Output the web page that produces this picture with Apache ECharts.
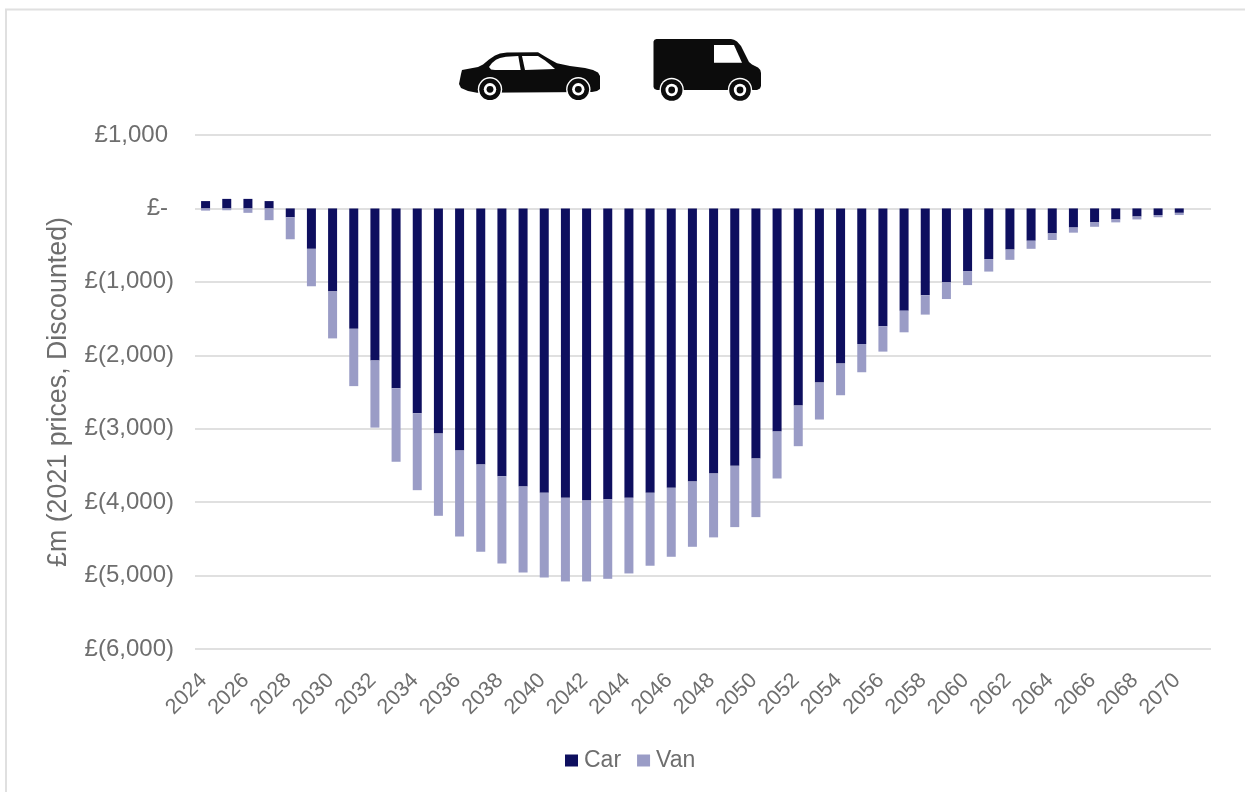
<!DOCTYPE html>
<html>
<head>
<meta charset="utf-8">
<style>html,body{margin:0;padding:0;background:#fff}#chart{width:1245px;height:792px}</style>
<script src="https://cdn.jsdelivr.net/npm/echarts@6/dist/echarts.min.js"></script>
</head>
<body>
<div id="chart"></div>
<script>
// Annual impact in £m, 2021 prices, discounted
const years = [2024,2025,2026,2027,2028,2029,2030,2031,2032,2033,2034,2035,2036,2037,2038,2039,
  2040,2041,2042,2043,2044,2045,2046,2047,2048,2049,2050,2051,2052,2053,2054,2055,2056,2057,2058,
  2059,2060,2061,2062,2063,2064,2065,2066,2067,2068,2069,2070,2071];
const car = [100,130,130,100,-120,-550,-1130,-1640,-2070,-2450,-2790,-3066,-3297,-3487,-3646,-3787,
  -3873,-3941,-3977,-3959,-3941,-3873,-3805,-3719,-3610,-3506,-3406,-3039,-2685,-2372,-2113,-1846,-1605,-1392,-1184,
  -1007,-857,-690,-560,-440,-340,-260,-190,-150,-110,-90,-60];
const van = [-30,-25,-60,-160,-300,-510,-640,-780,-915,-1000,-1047,-1120,-1170,-1189,-1189,-1170,
  -1152,-1139,-1103,-1085,-1030,-993,-939,-889,-870,-834,-798,-639,-553,-503,-431,-385,-345,-295,-262,
  -227,-187,-170,-140,-110,-90,-70,-60,-40,-40,-30,-30];

const GREY = '#6e6e6e', RULE = '#e0e0e0', ICON = '#0c0c0c';
const FONT = '"Liberation Sans", Arial, sans-serif';

// Accounting style: negatives in brackets, zero as a dash, others indented by a bracket's width
function money(v) {
  if (v === 0) return '{pad|£-}';
  const s = Math.abs(v).toLocaleString('en-GB');
  return v < 0 ? '{neg|£(' + s + ')}' : '{pad|£' + s + '}';
}

function wheel(cx, cy) {
  return [[12.2, '#fff'], [10.8, ICON], [6.2, '#fff'], [3.4, ICON]].map(([r, fill]) => ({
    type: 'circle', shape: { cx, cy, r }, style: { fill }, silent: true
  }));
}
function outline(points, fill) {
  return { type: 'polygon', shape: { points }, style: { fill }, silent: true };
}

// Pictograms above the plot, one per vehicle type
const carIcon = [
  outline([[459,84],[460,79],[461,74],[462,70],[470,68.5],[478,67],[483,64.5],[489,59.5],[495,55.5],[500,53.5],[507,52.5],[538,52.3],
    [545,56.5],[551,60],[557,63.3],[570,66],[585,68],[593,70],[598,72.5],[600,76],[600,89],[597,91],[592,92],[477,92.7],[468,91],[461,88]], ICON),
  outline([[489,67],[492,63],[496,59.8],[500,58],[506,56.8],[518.3,56],[520.7,70],[495,70],[491,69.5]], '#fff'),
  outline([[522,56],[538,56],[545,60.5],[550,64.5],[555,69],[525,70]], '#fff'),
  ...wheel(490, 89.3),
  ...wheel(578.3, 89.3)
];
const vanIcon = [
  outline([[653.5,41.5],[654.5,39.8],[656.5,39],[731,39],[734,39.8],[737,41.5],[741,46],[749,62],[752,64.5],[758,67.5],[760.3,70],[761,73],
    [761,86],[760,88.5],[757,90],[657,90],[654.5,89],[653.5,87]], ICON),
  outline([[714,45],[734,45],[742,62.8],[714,62.8]], '#fff'),
  ...wheel(671.7, 90),
  ...wheel(740, 90)
];

const chart = echarts.init(document.getElementById('chart'), null, { renderer: 'canvas' });
chart.setOption({
  animation: false,
  backgroundColor: '#fff',
  textStyle: { fontFamily: FONT },
  grid: { left: 195, right: 34, top: 135, bottom: 143 },
  legend: {
    left: 565, top: 749, padding: 0, itemWidth: 13, itemHeight: 12, itemGap: 16, icon: 'rect',
    textStyle: { color: GREY, fontSize: 23, fontFamily: FONT, padding: [0, 0, 0, 1] },
    data: ['Car', 'Van']
  },
  xAxis: {
    type: 'category', data: years,
    axisLine: { show: false, onZero: false }, axisTick: { show: false },
    axisLabel: { interval: 1, rotate: 45, color: GREY, fontSize: 21.5, margin: 26, padding: [0, 3, 0, 0], fontFamily: FONT }
  },
  yAxis: {
    type: 'value', min: -6000, max: 1000, interval: 1000,
    name: '£m (2021 prices, Discounted)', nameLocation: 'middle', nameRotate: 90, nameGap: 123,
    nameTextStyle: { color: GREY, fontSize: 26.8, fontFamily: FONT },
    axisLine: { show: false }, axisTick: { show: false },
    axisLabel: {
      formatter: money, margin: 21,
      rich: {
        neg: { color: GREY, fontSize: 24, fontFamily: FONT },
        pad: { color: GREY, fontSize: 24, fontFamily: FONT, padding: [0, 6, 0, 0] }
      }
    },
    splitLine: { lineStyle: { color: RULE, width: 2 } }
  },
  series: [
    { name: 'Car', type: 'bar', stack: 'total', data: car, barWidth: 9, itemStyle: { color: '#0e0f5f' } },
    { name: 'Van', type: 'bar', stack: 'total', data: van, barWidth: 9, itemStyle: { color: '#9a9cc6' } }
  ],
  graphic: [
    { type: 'line', shape: { x1: 6, y1: 9, x2: 6, y2: 792 }, style: { stroke: RULE, lineWidth: 2 }, silent: true },
    { type: 'line', shape: { x1: 5, y1: 9.5, x2: 1245, y2: 9.5 }, style: { stroke: RULE, lineWidth: 2 }, silent: true },
    ...carIcon,
    ...vanIcon
  ]
});
</script>
</body>
</html>
